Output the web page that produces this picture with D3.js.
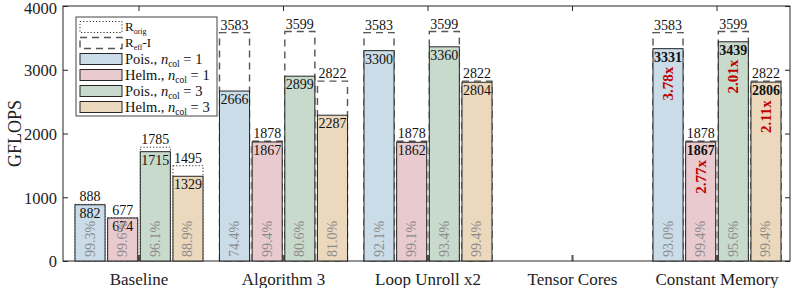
<!DOCTYPE html>
<html>
<head>
<meta charset="utf-8">
<script src="https://cdn.jsdelivr.net/npm/d3@7"></script>
<style>
  body { margin: 0; background: #fff; }
  svg text { font-family: "Liberation Serif", "Times New Roman", "DejaVu Serif", serif; }
</style>
</head>
<body>
<div id="chart"></div>
<script>
// groups on the x axis
const groups = ["Baseline", "Algorithm 3", "Loop Unroll x2", "Tensor Cores", "Constant Memory"];

// achieved GFLOPS per series (null = no bar)
const poisCol1 = [882, 2666, 3300, null, 3331];
const helmCol1 = [674, 1867, 1862, null, 1867];
const poisCol3 = [1715, 2899, 3360, null, 3439];
const helmCol3 = [1329, 2287, 2804, null, 2806];

// roofline per series: R_orig for baseline, R_eff-I for the rest
const roofPois1 = [888, 3583, 3583, null, 3583];
const roofHelm1 = [677, 1878, 1878, null, 1878];
const roofPois3 = [1785, 3599, 3599, null, 3599];
const roofHelm3 = [1495, 2822, 2822, null, 2822];
const roofKind = ["orig", "eff", "eff", null, "eff"];

const yTicks = [0, 1000, 2000, 3000, 4000];

const series = [
    { name: "Pois.", ncol: 1, values: poisCol1, roof: roofPois1, color: "#c9dce8" },
    { name: "Helm.", ncol: 1, values: helmCol1, roof: roofHelm1, color: "#e9cbcf" },
    { name: "Pois.", ncol: 3, values: poisCol3, roof: roofPois3, color: "#c8dacb" },
    { name: "Helm.", ncol: 3, values: helmCol3, roof: roofHelm3, color: "#ebd8bd" }
];
const baseIdx = 0, bestIdx = 4;

const W = 793, H = 288;
const frame = { left: 63, right: 790, top: 6, bottom: 261 };

const svg = d3.select("#chart").append("svg").attr("width", W).attr("height", H);

const x = d3.scaleBand().domain(groups).range([66.75, 789.25]).padding(0);
const xs = d3.scaleBand().domain(d3.range(series.length)).range([-64, 64]).paddingInner(0.08);
const y = d3.scaleLinear().domain([0, 4000]).range([frame.bottom, frame.top]);

const edge = "#262626";

// axes: left with labels, right/top/bottom as inward ticks only
svg.append("g").attr("transform", `translate(${frame.left},0)`)
    .call(d3.axisLeft(y).tickValues(yTicks).tickSize(-5).tickPadding(6).tickFormat(d3.format("d")))
    .call(g => g.attr("font-family", null))
    .call(g => g.select(".domain").remove())
    .call(g => g.selectAll("line").attr("stroke", edge))
    .call(g => g.selectAll("text").attr("font-size", 16.5).attr("fill", "#222")
        .attr("dy", d => d === 4000 ? "0.48em" : "0.36em"));

svg.append("g").attr("transform", `translate(${frame.right},0)`)
    .call(d3.axisRight(y).tickValues(yTicks).tickSize(-5).tickFormat(""))
    .call(g => g.select(".domain").remove())
    .call(g => g.selectAll("line").attr("stroke", edge));

svg.append("g").attr("transform", `translate(0,${frame.top})`)
    .call(d3.axisTop(x).tickSize(-5).tickFormat(""))
    .call(g => g.select(".domain").remove())
    .call(g => g.selectAll("line").attr("stroke", edge));

svg.append("g").attr("transform", `translate(0,${frame.bottom})`)
    .call(d3.axisBottom(x).tickSize(-6).tickPadding(12))
    .call(g => g.attr("font-family", null))
    .call(g => g.select(".domain").remove())
    .call(g => g.selectAll("line").attr("stroke", "#555").attr("stroke-width", 2))
    .call(g => g.selectAll("text").attr("font-size", 17).attr("fill", "#222"));

svg.append("rect")
    .attr("x", frame.left).attr("y", frame.top)
    .attr("width", frame.right - frame.left).attr("height", frame.bottom - frame.top)
    .attr("fill", "none").attr("stroke", edge).attr("stroke-width", 1);

svg.append("text")
    .attr("transform", `translate(15,${(frame.top + frame.bottom) / 2}) rotate(-90)`)
    .attr("text-anchor", "middle").attr("dominant-baseline", "central")
    .attr("font-size", 18).attr("fill", "#222").text("GFLOPS");

// flatten bars
const bars = [];
groups.forEach((gname, gi) => {
    series.forEach((s, si) => {
        if (s.values[gi] == null) return;
        bars.push({ gi, si, g: gname, v: s.values[gi], roof: s.roof[gi], kind: roofKind[gi], s });
    });
});
const bx = d => x(d.g) + x.bandwidth() / 2 + xs(d.si);
const bw = xs.bandwidth();
const cx = d => bx(d) + bw / 2;

const plot = svg.append("g");

// roofline outlines
plot.selectAll(".roof").data(bars).enter().append("rect")
    .attr("x", bx).attr("width", bw)
    .attr("y", d => y(d.roof)).attr("height", d => y(0) - y(d.roof))
    .attr("fill", "none")
    .attr("stroke", d => d.kind === "orig" ? "#333" : "#555")
    .attr("stroke-width", d => d.kind === "orig" ? 1 : 1.4)
    .attr("stroke-dasharray", d => d.kind === "orig" ? "1.2,2" : "7,5");

// bars
plot.selectAll(".bar").data(bars).enter().append("rect")
    .attr("x", bx).attr("width", bw)
    .attr("y", d => y(d.v)).attr("height", d => y(0) - y(d.v))
    .attr("fill", d => d.s.color).attr("stroke", edge).attr("stroke-width", 1);

// roof value above outline
plot.selectAll(".rooflbl").data(bars).enter().append("text")
    .attr("x", cx).attr("y", d => y(d.roof) - 3)
    .attr("text-anchor", "middle").attr("font-size", 14).attr("fill", "#111")
    .text(d => d.roof);

// bar value inside top of bar
plot.selectAll(".vallbl").data(bars).enter().append("text")
    .attr("x", cx).attr("y", d => y(d.v) + 13)
    .attr("text-anchor", "middle").attr("font-size", 14).attr("fill", "#111")
    .attr("font-weight", d => d.gi === bestIdx ? "bold" : "normal")
    .text(d => d.v);

// efficiency percentage, rotated at bottom
const pct = d3.format(".1f");
plot.selectAll(".pct").data(bars).enter().append("text")
    .attr("transform", d => `translate(${cx(d)},257) rotate(-90)`)
    .attr("text-anchor", "start").attr("dominant-baseline", "central")
    .attr("font-size", 14).attr("fill", "#8c8c8c")
    .text(d => pct(d.v / d.roof * 100) + "%");

// speedup over baseline for the best kernel
const best = bars.filter(d => d.gi === bestIdx);
plot.selectAll(".speed").data(best).enter().append("text")
    .attr("transform", d => `translate(${cx(d)},${y(d.v) + 18}) rotate(-90)`)
    .attr("text-anchor", "end").attr("dominant-baseline", "central")
    .attr("font-size", 15).attr("font-weight", "bold").attr("fill", "#c00000")
    .text(d => (d.v / d.s.values[baseIdx]).toFixed(2) + "x");

// legend
const leg = svg.append("g").attr("transform", "translate(76,17)");
leg.append("rect").attr("width", 141).attr("height", 99)
    .attr("fill", "#fff").attr("stroke", "#444").attr("stroke-width", 1);

const rowY = [10, 26, 42, 58, 74, 90];
const patchX = 4, patchW = 42, patchH = 11;

leg.append("rect").attr("x", patchX).attr("y", rowY[0] - patchH / 2).attr("width", patchW).attr("height", patchH)
    .attr("fill", "none").attr("stroke", "#333").attr("stroke-dasharray", "1.2,2");
leg.append("rect").attr("x", patchX).attr("y", rowY[1] - patchH / 2).attr("width", patchW).attr("height", patchH)
    .attr("fill", "none").attr("stroke", "#555").attr("stroke-width", 1.4).attr("stroke-dasharray", "7,5");

const t0 = leg.append("text").attr("x", 49).attr("y", rowY[0] + 4).attr("font-size", 13).attr("fill", "#111");
t0.append("tspan").text("R");
t0.append("tspan").attr("font-size", 8).attr("dy", 2.5).text("orig");

const t1 = leg.append("text").attr("x", 49).attr("y", rowY[1] + 4).attr("font-size", 13).attr("fill", "#111");
t1.append("tspan").text("R");
t1.append("tspan").attr("font-size", 8).attr("dy", 2.5).text("eff");
t1.append("tspan").attr("dy", -2.5).text("-I");

series.forEach((s, i) => {
    const ry = rowY[i + 2];
    leg.append("rect").attr("x", patchX).attr("y", ry - patchH / 2).attr("width", patchW).attr("height", patchH)
        .attr("fill", s.color).attr("stroke", edge);
    const t = leg.append("text").attr("x", 49).attr("y", ry + 5).attr("font-size", 14.5).attr("fill", "#111");
    t.append("tspan").text(s.name + ", ");
    t.append("tspan").attr("font-style", "italic").text("n");
    t.append("tspan").attr("font-size", 9.5).attr("dy", 2.5).text("col");
    t.append("tspan").attr("dy", -2.5).text(" = " + s.ncol);
});
</script>
</body>
</html>
